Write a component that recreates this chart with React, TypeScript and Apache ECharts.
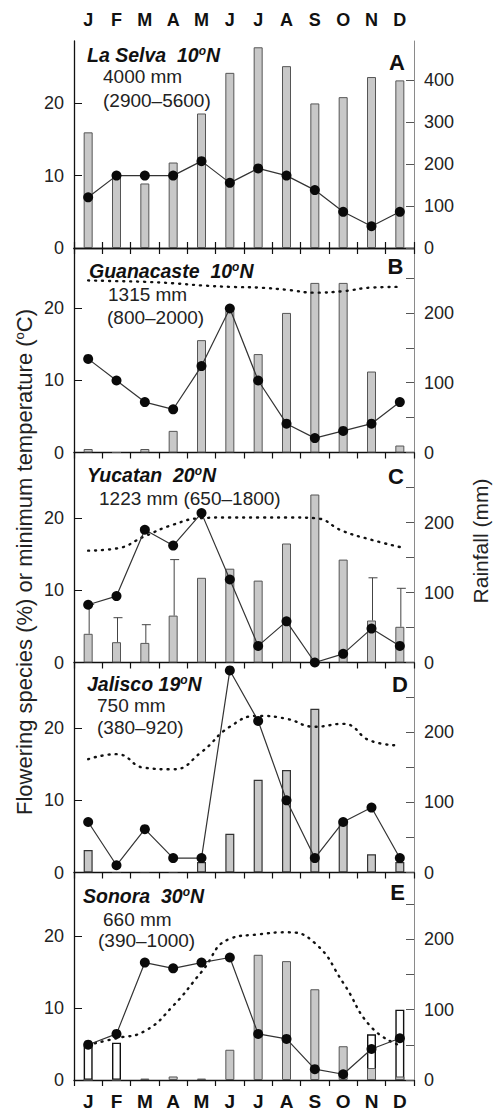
import React, { useEffect, useRef } from 'react';
import * as echarts from 'echarts';

// ---------- data ----------
const months = ['J', 'F', 'M', 'A', 'M', 'J', 'J', 'A', 'S', 'O', 'N', 'D'];

// A: La Selva
const selvaRain = [276, 174, 154, 204, 321, 418, 479, 434, 345, 360, 408, 400];
const selvaFlower = [7, 10, 10, 10, 12, 9, 11, 10, 8, 5, 3, 5];

// B: Guanacaste
const guanRain = [5, 0, 5, 31, 161, 203, 141, 200, 243, 243, 116, 10];
const guanFlower = [13, 10, 7, 6, 12, 20, 10, 4, 2, 3, 4, 7];
const guanTemp = [23.9, 23.8, 23.7, 23.5, 23.2, 23.0, 22.9, 22.6, 22.2, 22.4, 22.9, 23.0];

// C: Yucatan
const yucRain = [41, 29, 28, 67, 121, 134, 117, 170, 240, 147, 60, 51];
const yucRainErr = [83, 64, 54, 147, null, null, null, null, null, null, 121, 106];
const yucFlower = [8, 9.2, 18.4, 16.2, 20.7, 11.5, 2.3, 5.7, 0, 1.2, 4.7, 2.3];
const yucTemp = [15.5, 15.8, 17.5, 19.1, 20.0, 20.1, 20.1, 20.1, 20.0, 18.2, 17.0, 16.0];

// D: Jalisco
const jalRain = [32, 0, 0, 0, 15, 55, 132, 146, 233, 70, 26, 15];
const jalFlower = [7, 1, 6, 2, 2, 28, 21, 10, 2, 7, 9, 2];
const jalTemp = [15.7, 16.4, 14.5, 14.3, 16.7, 20.2, 21.7, 21.3, 20.2, 20.6, 18.2, 17.6];

// E: Sonora
const sonRain = [0, 0, 2, 5, 2, 43, 178, 169, 129, 48, 17, 5];
const sonOpenRain = [48, 53, null, null, null, null, null, null, null, null, 65, 100];
const sonFlower = [4.9, 6.4, 16.3, 15.5, 16.3, 17.0, 6.4, 5.7, 1.5, 0.8, 4.3, 5.8];
const sonTemp = [4.9, 5.8, 6.8, 10.3, 15.0, 19.6, 20.2, 20.5, 19.0, 13.5, 7.3, 4.8];

const leftTicks = [0, 10, 20];
const rightTicksA = [0, 100, 200, 300, 400];
const rightTicks = [0, 100, 200];

// ---------- layout ----------
const FONT = '"Liberation Sans", Arial, Helvetica, sans-serif';
const panelTop = [41, 248, 452.5, 662.5, 872.5];
const panelBottom = [248, 452.5, 662.5, 872.5, 1080];
const leftMax = [28.6, 28.4, 29.1, 29.1, 28.8];
const rightMax = [494, 293, 300, 299, 295];
const GRID_LEFT = 74;
const GRID_RIGHT = 83;

function buildOption() {
  const grids = panelTop.map((t, i) => ({
    left: GRID_LEFT,
    right: GRID_RIGHT,
    top: t,
    height: panelBottom[i] - t,
    containLabel: false,
  }));

  const xAxisBase = (gridIndex: number, position: string, showLabel: boolean) => ({
    type: 'category',
    gridIndex,
    position,
    data: months,
    boundaryGap: true,
    axisLine: { show: true, lineStyle: { color: '#111', width: 1.3 } },
    axisTick: { show: true, inside: false, length: 6, interval: 0, lineStyle: { color: '#111', width: 1.2 } },
    axisLabel: {
      show: showLabel,
      interval: 0,
      fontFamily: FONT,
      fontWeight: 'bold',
      fontSize: position === 'top' ? 18 : 19,
      color: '#111',
      margin: 12,
    },
    splitLine: { show: false },
  });

  const xAxis = [
    xAxisBase(0, 'top', true),
    xAxisBase(0, 'bottom', false),
    xAxisBase(1, 'bottom', false),
    xAxisBase(2, 'bottom', false),
    xAxisBase(3, 'bottom', false),
    xAxisBase(4, 'bottom', true),
  ];

  const yAxis: any[] = [];
  panelTop.forEach((_, i) => {
    yAxis.push({
      type: 'value',
      gridIndex: i,
      position: 'left',
      min: 0,
      max: leftMax[i],
      interval: 10,
      axisLine: { show: true, lineStyle: { color: '#111', width: 1.3 } },
      axisTick: { show: true, inside: true, length: 8, lineStyle: { color: '#111', width: 1 } },
      axisLabel: {
        fontFamily: FONT,
        fontSize: 18,
        color: '#222',
        margin: 10,
        showMaxLabel: false,
        formatter: (v: number) => (leftTicks.includes(v) ? String(v) : ''),
      },
      splitLine: { show: false },
    });
    const rt = i === 0 ? rightTicksA : rightTicks;
    yAxis.push({
      type: 'value',
      gridIndex: i,
      position: 'right',
      min: 0,
      max: rightMax[i],
      interval: i === 0 ? 100 : 50,
      axisLine: { show: true, lineStyle: { color: '#8a8a8a', width: 1 } },
      axisTick: { show: true, inside: true, length: 8, lineStyle: { color: '#555', width: 1 } },
      axisLabel: {
        fontFamily: FONT,
        fontSize: 18,
        color: '#222',
        margin: 10,
        showMaxLabel: false,
        formatter: (v: number) => (rt.includes(v) ? String(v) : ''),
      },
      splitLine: { show: false },
    });
  });

  const barStyle = { color: '#c8c8c8', borderColor: '#555', borderWidth: 1 };
  const bar = (name: string, data: any[], xi: number, yi: number, style: any = barStyle) => ({
    name,
    type: 'bar',
    xAxisIndex: xi,
    yAxisIndex: yi,
    data,
    barWidth: 9,
    barGap: '-100%',
    itemStyle: style,
    z: 2,
  });
  const flowerLine = (name: string, data: number[], xi: number, yi: number) => ({
    name,
    type: 'line',
    xAxisIndex: xi,
    yAxisIndex: yi,
    data,
    symbol: 'circle',
    symbolSize: 10,
    itemStyle: { color: '#0a0a0a' },
    lineStyle: { color: '#333', width: 1.2 },
    z: 6,
  });
  const tempLine = (name: string, data: number[], xi: number, yi: number) => ({
    name,
    type: 'line',
    xAxisIndex: xi,
    yAxisIndex: yi,
    data,
    smooth: 0.5,
    symbol: 'none',
    lineStyle: { color: '#111', width: 2.4, type: [1, 6], cap: 'round' },
    z: 4,
  });

  const errData = yucRainErr
    .map((e, i) => (e == null ? null : [i, yucRain[i], e]))
    .filter((d) => d != null);

  const series: any[] = [
    // A
    bar('La Selva rainfall', selvaRain, 1, 1),
    flowerLine('La Selva flowering', selvaFlower, 1, 0),
    // B
    bar('Guanacaste rainfall', guanRain, 2, 3),
    tempLine('Guanacaste min temp', guanTemp, 2, 2),
    flowerLine('Guanacaste flowering', guanFlower, 2, 2),
    // C
    bar('Yucatan rainfall', yucRain, 3, 5),
    {
      name: 'Yucatan rainfall SD',
      type: 'custom',
      xAxisIndex: 3,
      yAxisIndex: 5,
      data: errData,
      z: 3,
      renderItem: (params: any, api: any) => {
        const x = api.value(0);
        const p0 = api.coord([x, api.value(1)]);
        const p1 = api.coord([x, api.value(2)]);
        const cx = p0[0] + 1;
        return {
          type: 'group',
          children: [
            { type: 'line', shape: { x1: cx, y1: p0[1], x2: cx, y2: p1[1] }, style: { stroke: '#444', lineWidth: 1 } },
            { type: 'line', shape: { x1: cx - 4, y1: p1[1], x2: cx + 5, y2: p1[1] }, style: { stroke: '#444', lineWidth: 1 } },
          ],
        };
      },
    },
    tempLine('Yucatan min temp', yucTemp, 3, 4),
    flowerLine('Yucatan flowering', yucFlower, 3, 4),
    // D
    bar('Jalisco rainfall', jalRain, 4, 7, { color: '#c8c8c8', borderColor: '#333', borderWidth: 1.2 }),
    tempLine('Jalisco min temp', jalTemp, 4, 6),
    flowerLine('Jalisco flowering', jalFlower, 4, 6),
    // E
    bar('Sonora winter rainfall', sonOpenRain, 5, 9, { color: '#ffffff', borderColor: '#111', borderWidth: 1.4 }),
    bar('Sonora rainfall', sonRain, 5, 9),
    tempLine('Sonora min temp', sonTemp, 5, 8),
    flowerLine('Sonora flowering', sonFlower, 5, 8),
  ];

  const titleRich = (size: number) => ({
    t: { fontFamily: FONT, fontSize: size, fontWeight: 'bold', fontStyle: 'italic', fill: '#111', color: '#111' },
    s: { fontFamily: FONT, fontSize: 12, fontWeight: 'bold', fontStyle: 'italic', fill: '#111', color: '#111', verticalAlign: 'top' },
  });
  const siteTitle = (name: string, x: number, y: number) => ({
    type: 'text',
    x,
    y,
    z: 10,
    style: {
      text: `{t|${name}}{s|o}{t|N}`,
      rich: titleRich(19.5),
      align: 'left',
      verticalAlign: 'middle',
    },
  });
  const plain = (text: string, x: number, y: number) => ({
    type: 'text',
    x,
    y,
    z: 10,
    style: { text, font: `19px ${FONT}`, fill: '#222', align: 'left', verticalAlign: 'middle' },
  });
  const letter = (text: string, x: number, y: number) => ({
    type: 'text',
    x,
    y,
    z: 10,
    style: { text, font: `bold 22px ${FONT}`, fill: '#111', align: 'center', verticalAlign: 'middle' },
  });

  const graphic: any[] = [
    siteTitle('La Selva  10', 87, 54.5),
    plain('4000 mm', 103, 76.5),
    plain('(2900–5600)', 103, 100),
    letter('A', 397, 62.5),

    siteTitle('Guanacaste  10', 89, 271),
    plain('1315 mm', 108, 294.5),
    plain('(800–2000)', 107, 317.5),
    letter('B', 395.5, 266.5),

    siteTitle('Yucatan  20', 87, 475),
    plain('1223 mm (650–1800)', 99, 498.5),
    letter('C', 396, 476.5),

    siteTitle('Jalisco 19', 87, 684),
    plain('750 mm', 97, 705.5),
    plain('(380–920)', 97, 727.5),
    letter('D', 400, 684),

    siteTitle('Sonora  30', 83, 895.5),
    plain('660 mm', 103, 919),
    plain('(390–1000)', 98, 940.5),
    letter('E', 397.5, 892.5),

    {
      type: 'text',
      x: 24,
      y: 562,
      rotation: Math.PI / 2,
      z: 10,
      style: {
        text: '{a|Flowering species (%) or minimum temperature (}{s|o}{a|C)}',
        rich: {
          a: { fontFamily: FONT, fontSize: 22, fill: '#222', color: '#222' },
          s: { fontFamily: FONT, fontSize: 13, fill: '#222', color: '#222', verticalAlign: 'top' },
        },
        align: 'center',
        verticalAlign: 'middle',
      },
    },
    {
      type: 'text',
      x: 480,
      y: 541,
      rotation: Math.PI / 2,
      z: 10,
      style: {
        text: 'Rainfall (mm)',
        font: `21px ${FONT}`,
        fill: '#222',
        align: 'center',
        verticalAlign: 'middle',
      },
    },
  ];

  return {
    animation: false,
    backgroundColor: '#ffffff',
    grid: grids,
    xAxis,
    yAxis,
    series,
    graphic,
  };
}

export default function App() {
  const ref = useRef<HTMLDivElement>(null);
  useEffect(() => {
    if (!ref.current) return;
    const chart = echarts.init(ref.current, null, { renderer: 'svg' });
    chart.setOption(buildOption() as any);
    return () => chart.dispose();
  }, []);
  return (
    <div
      ref={ref}
      style={{ position: 'absolute', left: 0, top: 0, width: 497, height: 1113 }}
    />
  );
}
